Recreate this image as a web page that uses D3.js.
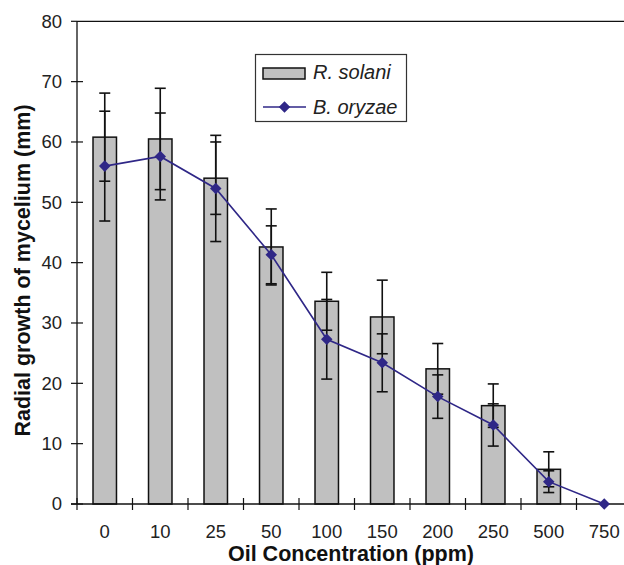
<!DOCTYPE html>
<html>
<head>
<meta charset="utf-8">
<script src="https://cdn.jsdelivr.net/npm/d3@7"></script>
<style>
  body { margin: 0; background: #fff; }
  svg { display: block; font-family: "Liberation Sans", Arial, sans-serif; }
</style>
</head>
<body>
<div id="chart"></div>
<script>
const categories = ["0", "10", "25", "50", "100", "150", "200", "250", "500", "750"];
const solani = [60.8, 60.5, 54.0, 42.6, 33.6, 31.0, 22.4, 16.3, 5.75, 0];
const solaniErr = [7.3, 8.4, 6.0, 6.3, 4.8, 6.1, 4.2, 3.6, 2.9, 0];
const oryzae = [56.0, 57.6, 52.3, 41.3, 27.3, 23.4, 17.8, 13.1, 3.7, 0];
const oryzaeErr = [9.1, 7.2, 8.8, 4.8, 6.6, 4.8, 3.6, 3.5, 1.8, 0];
const yTicks = [0, 10, 20, 30, 40, 50, 60, 70, 80];

const width = 624, height = 565;
const lineColor = "#2f2787";
const barFill = "#c0c0c0";

const svg = d3.select("#chart").append("svg")
  .attr("width", width)
  .attr("height", height);

const plot = { left: 77, right: 632, top: 21.3, bottom: 504 };

const x = d3.scaleBand()
  .domain(categories)
  .range([plot.left, plot.right])
  .paddingInner(0.577)
  .paddingOuter(0.2885);

const y = d3.scaleLinear()
  .domain([0, 80])
  .range([plot.bottom, plot.top]);

const cx = c => x(c) + x.bandwidth() / 2;
const step = x.step();

// frame: top line
svg.append("line")
  .attr("x1", plot.left).attr("x2", plot.right)
  .attr("y1", y(80)).attr("y2", y(80))
  .attr("stroke", "#111").attr("stroke-width", 1.3);

// y axis
svg.append("line")
  .attr("x1", plot.left).attr("x2", plot.left)
  .attr("y1", y(0)).attr("y2", y(80))
  .attr("stroke", "#111").attr("stroke-width", 1.3);

svg.append("g").selectAll("line")
  .data(yTicks)
  .join("line")
  .attr("x1", plot.left - 6).attr("x2", d => d === 80 ? plot.left : plot.left + 6)
  .attr("y1", d => y(d)).attr("y2", d => y(d))
  .attr("stroke", "#111").attr("stroke-width", 1.2);

svg.append("g").selectAll("text")
  .data(yTicks)
  .join("text")
  .attr("x", 62)
  .attr("y", d => y(d))
  .attr("dy", "0.35em")
  .attr("text-anchor", "end")
  .attr("font-size", 18.5)
  .attr("fill", "#222")
  .text(d => d);

// bars
svg.append("g").selectAll("rect")
  .data(categories.filter((c, i) => solani[i] > 0))
  .join("rect")
  .attr("x", c => x(c))
  .attr("width", x.bandwidth())
  .attr("y", c => y(solani[categories.indexOf(c)]))
  .attr("height", c => y(0) - y(solani[categories.indexOf(c)]))
  .attr("fill", barFill)
  .attr("stroke", "#111")
  .attr("stroke-width", 1.5);

// x axis
svg.append("line")
  .attr("x1", plot.left - 6).attr("x2", plot.right)
  .attr("y1", y(0)).attr("y2", y(0))
  .attr("stroke", "#111").attr("stroke-width", 1.3);

svg.append("g").selectAll("line")
  .data(d3.range(categories.length + 1))
  .join("line")
  .attr("x1", i => plot.left + i * step)
  .attr("x2", i => plot.left + i * step)
  .attr("y1", y(0) - 6).attr("y2", y(0) + 6)
  .attr("stroke", "#111").attr("stroke-width", 1.2);

svg.append("g").selectAll("text")
  .data(categories)
  .join("text")
  .attr("x", c => cx(c))
  .attr("y", 538)
  .attr("text-anchor", "middle")
  .attr("font-size", 18.5)
  .attr("fill", "#222")
  .text(c => c);

// error bars
function errorBars(values, errs) {
  const g = svg.append("g")
    .attr("stroke", "#111")
    .attr("stroke-width", 1.6);
  const data = categories.map((c, i) => ({ c, v: values[i], e: errs[i] }))
    .filter(d => d.e > 0);
  g.selectAll(".stem").data(data).join("line")
    .attr("x1", d => cx(d.c)).attr("x2", d => cx(d.c))
    .attr("y1", d => y(d.v + d.e)).attr("y2", d => y(d.v - d.e));
  g.selectAll(".capTop").data(data).join("line")
    .attr("x1", d => cx(d.c) - 5.5).attr("x2", d => cx(d.c) + 5.5)
    .attr("y1", d => y(d.v + d.e)).attr("y2", d => y(d.v + d.e));
  g.selectAll(".capBot").data(data).join("line")
    .attr("x1", d => cx(d.c) - 5.5).attr("x2", d => cx(d.c) + 5.5)
    .attr("y1", d => y(d.v - d.e)).attr("y2", d => y(d.v - d.e));
}
errorBars(solani, solaniErr);
errorBars(oryzae, oryzaeErr);

// line
const line = d3.line()
  .x((d, i) => cx(categories[i]))
  .y(d => y(d));

svg.append("path")
  .datum(oryzae)
  .attr("d", line)
  .attr("fill", "none")
  .attr("stroke", lineColor)
  .attr("stroke-width", 1.6);

const diamond = d3.symbol().type(d3.symbolDiamond2).size(85);

svg.append("g").selectAll("path")
  .data(oryzae)
  .join("path")
  .attr("transform", (d, i) => `translate(${cx(categories[i])},${y(d)})`)
  .attr("d", diamond)
  .attr("fill", lineColor);

// legend
const legend = svg.append("g");
legend.append("rect")
  .attr("x", 255.5).attr("y", 54.5)
  .attr("width", 151).attr("height", 67)
  .attr("fill", "#fff")
  .attr("stroke", "#333")
  .attr("stroke-width", 1.2);
legend.append("rect")
  .attr("x", 263).attr("y", 68)
  .attr("width", 42).attr("height", 11)
  .attr("fill", barFill)
  .attr("stroke", "#111")
  .attr("stroke-width", 1.5);
legend.append("text")
  .attr("x", 313).attr("y", 72)
  .attr("dy", "0.35em")
  .attr("font-size", 20)
  .attr("font-style", "italic")
  .attr("fill", "#222")
  .text("R. solani");
legend.append("line")
  .attr("x1", 263).attr("x2", 306)
  .attr("y1", 107).attr("y2", 107)
  .attr("stroke", lineColor).attr("stroke-width", 1.6);
legend.append("path")
  .attr("transform", "translate(284.5,107)")
  .attr("d", diamond)
  .attr("fill", lineColor);
legend.append("text")
  .attr("x", 313).attr("y", 107)
  .attr("dy", "0.35em")
  .attr("font-size", 20)
  .attr("font-style", "italic")
  .attr("fill", "#222")
  .text("B. oryzae");

// axis titles
svg.append("text")
  .attr("x", 351).attr("y", 561)
  .attr("text-anchor", "middle")
  .attr("font-size", 21.5)
  .attr("font-weight", "bold")
  .attr("fill", "#111")
  .text("Oil Concentration (ppm)");

svg.append("text")
  .attr("transform", "translate(30,270.5) rotate(-90)")
  .attr("text-anchor", "middle")
  .attr("font-size", 21.5)
  .attr("font-weight", "bold")
  .attr("fill", "#111")
  .text("Radial growth of mycelium (mm)");
</script>
</body>
</html>
